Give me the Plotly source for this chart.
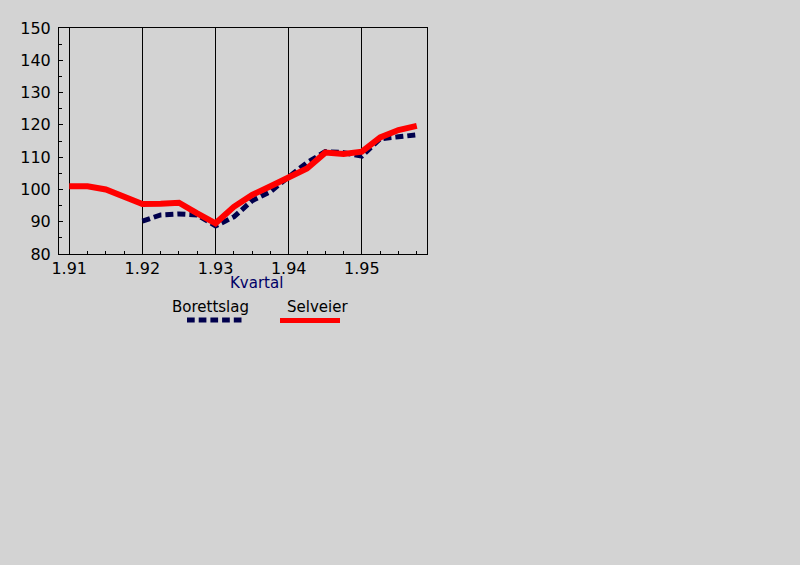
import plotly.graph_objects as go

quarters = [1.91, 1.9125, 1.915, 1.9175, 1.92, 1.9225, 1.925, 1.9275, 1.93, 1.9325,
            1.935, 1.9375, 1.94, 1.9425, 1.945, 1.9475, 1.95, 1.9525, 1.955, 1.9575]
selveier = [101.0, 101.0, 100.0, 97.8, 95.5, 95.6, 95.9, 92.6, 89.5, 94.6,
            98.3, 101.0, 103.9, 106.5, 111.4, 111.0, 111.7, 116.1, 118.4, 119.7]
borettslag_x = quarters[4:]
borettslag = [90.2, 92.1, 92.4, 92.1, 88.7, 91.5, 96.5, 99.3, 103.9, 108.3,
              111.7, 111.4, 110.3, 115.7, 116.3, 116.9]
x_ticks = [1.91, 1.92, 1.93, 1.94, 1.95]
x_labels = ["1.91", "1.92", "1.93", "1.94", "1.95"]
y_ticks = [80, 90, 100, 110, 120, 130, 140, 150]

BG = "#d3d3d3"
NAVY = "#00004d"
FONT = "DejaVu Sans"

W, H = 800, 565
L, R, T, B = 59, 373, 28, 311
pw, ph = W - L - R, H - T - B


def px(x):
    return (x - L) / pw


def py(y):
    return (H - B - y) / ph


fig = go.Figure()
fig.add_trace(go.Scatter(x=borettslag_x, y=borettslag, mode="lines", name="Borettslag",
                         line=dict(color=NAVY, width=5, dash="8px,4px")))
fig.add_trace(go.Scatter(x=quarters, y=selveier, mode="lines", name="Selveier",
                         line=dict(color="#ff0000", width=6)))

fig.update_layout(
    width=W, height=H,
    paper_bgcolor=BG, plot_bgcolor=BG,
    margin=dict(l=L, r=R, t=T, b=B),
    showlegend=False,
    font=dict(family=FONT, size=15, color="black"),
    xaxis=dict(range=[1.9086, 1.9589], tickvals=x_ticks, ticktext=x_labels,
               showgrid=True, gridcolor="black", gridwidth=1, zeroline=False,
               showline=True, linecolor="black", linewidth=1, mirror=True,
               ticks="inside", ticklen=4, tickcolor="black",
               minor=dict(dtick=0.0025, tick0=1.91, ticks="inside", ticklen=3,
                          tickcolor="black", showgrid=False),
               tickfont=dict(size=16), ticklabelstandoff=0),
    yaxis=dict(range=[80, 150], tickvals=y_ticks, showgrid=False, zeroline=False,
               showline=True, linecolor="black", linewidth=1, mirror=True,
               ticks="inside", ticklen=4, tickcolor="black",
               minor=dict(dtick=5, tick0=80, ticks="inside", ticklen=3, tickcolor="black"),
               tickfont=dict(size=16), ticklabelstandoff=4),
)

for text, x, y, color in [("Kvartal", 256, 283, "#000066"),
                          ("Borettslag", 210, 307, "black"),
                          ("Selveier", 317, 307, "black")]:
    fig.add_annotation(text=text, x=px(x), y=py(y), xref="paper", yref="paper",
                       xanchor="center", yanchor="middle", showarrow=False,
                       font=dict(color=color, size=15, family=FONT))

fig.add_shape(type="line", xref="paper", yref="paper", x0=px(187), x1=px(242),
              y0=py(320), y1=py(320), line=dict(color=NAVY, width=5, dash="7.7px,4px"))
fig.add_shape(type="line", xref="paper", yref="paper", x0=px(280), x1=px(340),
              y0=py(320.5), y1=py(320.5), line=dict(color="#ff0000", width=5))

fig.write_html("out.html", config={"displayModeBar": False},
               post_script="document.body.style.margin='0';document.body.style.background='#d3d3d3';")
